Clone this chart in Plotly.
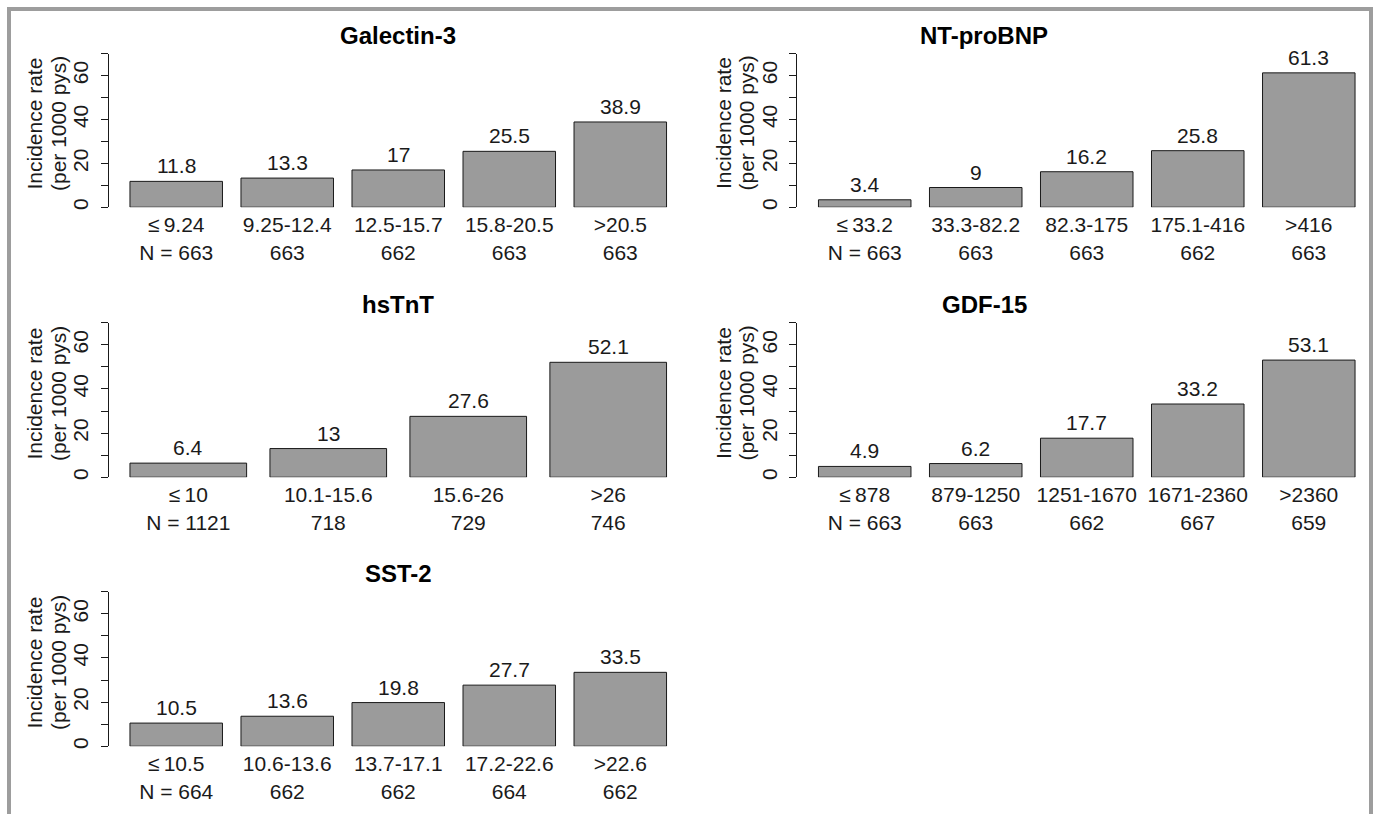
import plotly.graph_objects as go

W, H = 1375, 817

# ---------------- data ----------------
gal_cats = ["≤\u20099.24", "9.25-12.4", "12.5-15.7", "15.8-20.5", ">20.5"]
gal_n = [663, 663, 662, 663, 663]
gal_rate = [11.8, 13.3, 17, 25.5, 38.9]

bnp_cats = ["≤\u200933.2", "33.3-82.2", "82.3-175", "175.1-416", ">416"]
bnp_n = [663, 663, 663, 662, 663]
bnp_rate = [3.4, 9, 16.2, 25.8, 61.3]

tnt_cats = ["≤\u200910", "10.1-15.6", "15.6-26", ">26"]
tnt_n = [1121, 718, 729, 746]
tnt_rate = [6.4, 13, 27.6, 52.1]

gdf_cats = ["≤\u2009878", "879-1250", "1251-1670", "1671-2360", ">2360"]
gdf_n = [663, 663, 662, 667, 659]
gdf_rate = [4.9, 6.2, 17.7, 33.2, 53.1]

sst_cats = ["≤\u200910.5", "10.6-13.6", "13.7-17.1", "17.2-22.6", ">22.6"]
sst_n = [664, 662, 662, 664, 662]
sst_rate = [10.5, 13.6, 19.8, 27.7, 33.5]

titles = ["Galectin-3", "NT-proBNP", "hsTnT", "GDF-15", "SST-2"]
y_ticks = [0, 10, 20, 30, 40, 50, 60, 70]
y_ticktext = ["0", "", "20", "", "40", "", "60", ""]
y_title_lines = ["Incidence rate", "(per 1000 pys)"]

panels = [
    (gal_cats, gal_n, gal_rate),
    (bnp_cats, bnp_n, bnp_rate),
    (tnt_cats, tnt_n, tnt_rate),
    (gdf_cats, gdf_n, gdf_rate),
    (sst_cats, sst_n, sst_rate),
]

# ---------------- layout geometry (pixels) ----------------
col_x = [(108.5, 688.0), (797.0, 1375.0)]
row_y = [(54.0, 208.0), (324.0, 479.0), (594.0, 749.0)]   # top(70), bottom(0)
title_x = [398.0, 984.0]
FONT = "Liberation Sans, Arial, Helvetica, sans-serif"
BAR_FILL = "#9b9b9b"
INK = "#1a1a1a"


def px(x):
    return x / W


def py(y):
    return 1 - y / H


fig = go.Figure()
annotations = []
layout_axes = {}

for i, (cats, ns, rates) in enumerate(panels):
    r, c = divmod(i, 2)
    k = i + 1
    xa = "x" if k == 1 else f"x{k}"
    ya = "y" if k == 1 else f"y{k}"
    ticktext = [f"{cat}<br>{'N = ' if j == 0 else ''}{n}" for j, (cat, n) in enumerate(zip(cats, ns))]
    fig.add_trace(go.Bar(
        x=cats, y=rates, xaxis=xa, yaxis=ya,
        marker=dict(color=BAR_FILL, line=dict(color=INK, width=1)),
        showlegend=False, hoverinfo="x+y",
    ))
    # value labels above bars
    for cat, v in zip(cats, rates):
        annotations.append(dict(
            text=f"{v:g}", x=cat, y=v, xref=xa, yref=ya,
            xanchor="center", yanchor="bottom", yshift=2, showarrow=False,
            font=dict(family=FONT, size=21, color=INK),
        ))
    x0, x1 = col_x[c]
    ytop, ybot = row_y[r]
    nb = len(cats)
    # R barplot: bar width 1, space 0.2, 4% expansion -> range in category units
    span_units = nb * 1.2 - 0.2
    pad = 0.04 * span_units
    left = (0.2 - pad - 0.7) / 1.2
    right_full = (0.2 + span_units + pad - 0.7) / 1.2
    px_per = (688.0 - 108.5) / (right_full - left)
    right = left + (x1 - x0) / px_per
    xkey = "xaxis" if k == 1 else f"xaxis{k}"
    ykey = "yaxis" if k == 1 else f"yaxis{k}"
    layout_axes[xkey] = dict(
        domain=[px(x0), px(x1)], range=[left, right], anchor=ya,
        type="category", showline=False, showgrid=False, zeroline=False,
        ticks="", tickmode="array", tickvals=cats, ticktext=ticktext,
        tickfont=dict(family=FONT, size=21, color=INK), ticklabelstandoff=3,
        fixedrange=True,
    )
    layout_axes[ykey] = dict(
        domain=[py(ybot), py(ytop)], range=[0, 70], anchor=xa,
        showline=True, linecolor=INK, linewidth=1, showgrid=False, zeroline=False,
        ticks="outside", ticklen=7, tickcolor=INK, tickwidth=1,
        tickmode="array", tickvals=y_ticks, ticktext=y_ticktext, tickangle=-90,
        tickfont=dict(family=FONT, size=21, color=INK), ticklabelstandoff=4,
        fixedrange=True,
    )
    # panel title
    annotations.append(dict(
        text=f"<b>{titles[i]}</b>", x=px(title_x[c]), y=py(ytop - 18), xref="paper", yref="paper",
        xanchor="center", yanchor="middle", showarrow=False,
        font=dict(family=FONT, size=24, color="#000000"),
    ))
    # y-axis title (two lines)
    for dx, line in zip((-73.5, -50.0), y_title_lines):
        annotations.append(dict(
            text=line, x=px(x0 + dx), y=py(ybot - 84), xref="paper", yref="paper",
            xanchor="center", yanchor="middle", showarrow=False, textangle=-90,
            font=dict(family=FONT, size=21, color=INK),
        ))

frame = "#9d9d9d"
shapes = [
    dict(type="line", xref="paper", yref="paper", x0=px(9), x1=px(9), y0=py(7), y1=0,
         line=dict(color=frame, width=4)),
    dict(type="line", xref="paper", yref="paper", x0=px(7), x1=px(1373), y0=py(9), y1=py(9),
         line=dict(color=frame, width=4)),
    dict(type="line", xref="paper", yref="paper", x0=px(1371), x1=px(1371), y0=py(7), y1=0,
         line=dict(color=frame, width=4)),
]

fig.update_layout(
    width=W, height=H, margin=dict(l=0, r=0, t=0, b=0),
    paper_bgcolor="white", plot_bgcolor="rgba(0,0,0,0)",
    bargap=1 / 6, showlegend=False,
    font=dict(family=FONT, color=INK),
    annotations=annotations, shapes=shapes,
    **layout_axes,
)

# remove the browser's default page margin so the figure fills the window exactly
fig.write_html(
    "out.html",
    config={"displayModeBar": False},
    post_script="document.body.style.margin='0';document.body.style.overflow='hidden';",
)
